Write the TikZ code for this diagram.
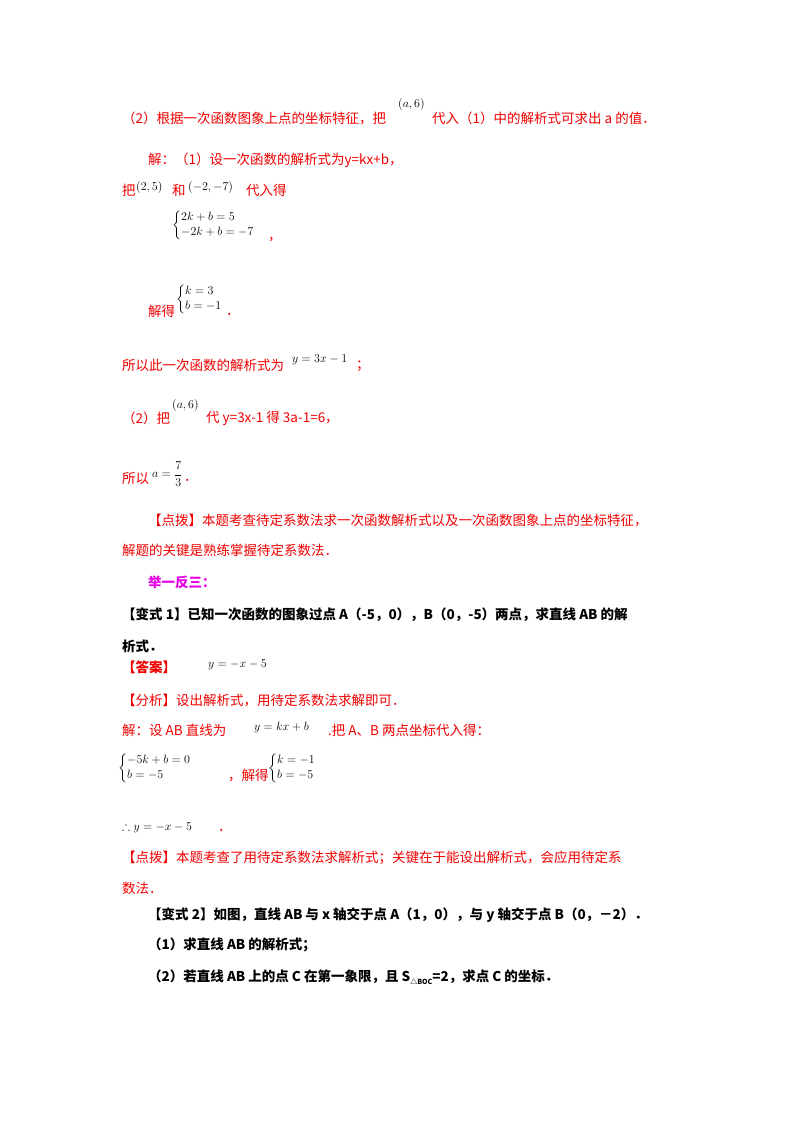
\documentclass[tikz,border=0pt]{standalone}
\usepackage{amsmath,amssymb}
\usepackage{fontspec}
\setmainfont{Liberation Serif}
\newfontfamily\cjk{Noto Sans CJK SC}
\definecolor{rd}{RGB}{240,0,0}
\definecolor{mg}{RGB}{230,0,230}
\begin{document}
\begin{tikzpicture}[x=1pt,y=-1pt,
  t/.style={anchor=west,inner sep=0pt,font=\fontsize{13.5}{16}\selectfont\cjk,text=rd},
  b/.style={anchor=west,inner sep=0pt,font=\fontsize{12}{15}\selectfont,text=black},
  k/.style={anchor=west,inner sep=0pt,font=\fontsize{13.5}{16}\selectfont\cjk\bfseries,text=black}]
\useasboundingbox (0,0) rectangle (800,1132);
\node[t] (l1a) at (122,118) {（2）根据一次函数图象上点的坐标特征，把};
\node[b] (l1b) at (398,104) {$(a,6)$};
\node[t] (l1c) at (432,118) {代入（1）中的解析式可求出 a 的值．};
\node[t] (l2) at (148,160) {解：（1）设一次函数的解析式为y=kx+b，};
\node[t] (l3a) at (122,190) {把};
\node[b] (l3b) at (136,187) {$(2,5)$};
\node[t] (l3c) at (172,190) {和};
\node[b] (l3d) at (188,187) {$(-2,-7)$};
\node[t] (l3e) at (246,190) {代入得};
\node[b] (s1) at (172,225) {$\left\{\begin{array}{@{}l@{}}2k+b=5\\-2k+b=-7\end{array}\right.$};
\node[t] (s1c) at (268,240) {，};
\node[t] (l4a) at (148,311) {解得};
\node[b] (s2) at (176,299) {$\left\{\begin{array}{@{}l@{}}k=3\\b=-1\end{array}\right.$};
\node[t] (s2c) at (226,314) {．};
\node[t] (l5a) at (122,365) {所以此一次函数的解析式为};
\node[b] (l5b) at (292,360) {$y=3x-1$};
\node[t] (l5c) at (356,366) {；};
\node[t] (l6a) at (122,418) {（2）把};
\node[b] (l6b) at (172,405) {$(a,6)$};
\node[t] (l6c) at (206,418) {代 y=3x-1 得 3a-1=6，};
\node[t] (l7a) at (122,478) {所以};
\node[b] (l7b) at (152,474) {$a=\dfrac{7}{3}$};
\node[t] (l7c) at (184,480) {．};
\node[t] (l8) at (148,520) {【点拨】本题考查待定系数法求一次函数解析式以及一次函数图象上点的坐标特征，};
\node[t] (l9) at (122,550) {解题的关键是熟练掌握待定系数法．};
\node[t,text=mg,font=\fontsize{13.5}{16}\selectfont\cjk\bfseries] (l10) at (148,582) {举一反三：};
\node[k] (l11) at (122,615) {【变式 1】已知一次函数的图象过点 \textit{A}（-5，0），\textit{B}（0，-5）两点，求直线 \textit{AB} 的解};
\node[k] (l12) at (122,646) {析式．};
\node[t,font=\fontsize{13.5}{16}\selectfont\cjk\bfseries] (l13a) at (122,667) {【答案】};
\node[b] (l13b) at (208,665) {$y=-x-5$};
\node[t] (l14) at (122,700) {【分析】设出解析式，用待定系数法求解即可．};
\node[t] (l15a) at (122,730) {解：设 \textit{AB} 直线为};
\node[b] (l15b) at (254,727) {$y=kx+b$};
\node[t] (l15c) at (328,730) {.把 \textit{A}、\textit{B} 两点坐标代入得：};
\node[b] (s3) at (118,768) {$\left\{\begin{array}{@{}l@{}}-5k+b=0\\b=-5\end{array}\right.$};
\node[t] (s3c) at (228,776) {，解得};
\node[b] (s4) at (268,768) {$\left\{\begin{array}{@{}l@{}}k=-1\\b=-5\end{array}\right.$};
\node[b] (l16) at (122,828) {$\therefore y=-x-5$};
\node[t] (l16c) at (218,830) {．};
\node[t] (l17) at (122,858) {【点拨】本题考查了用待定系数法求解析式；关键在于能设出解析式，会应用待定系};
\node[t] (l18) at (122,888) {数法．};
\node[k] (l19) at (148,915) {【变式 2】如图，直线 AB 与 x 轴交于点 A（1，0），与 y 轴交于点 B（0，－2）．};
\node[k] (l20) at (148,945) {（1）求直线 AB 的解析式；};
\node[k] (l21) at (148,977) {（2）若直线 AB 上的点 C 在第一象限，且 S\raisebox{-0.4ex}{\fontsize{7}{8}\selectfont △BOC}=2，求点 C 的坐标．};
\end{tikzpicture}
\end{document}
